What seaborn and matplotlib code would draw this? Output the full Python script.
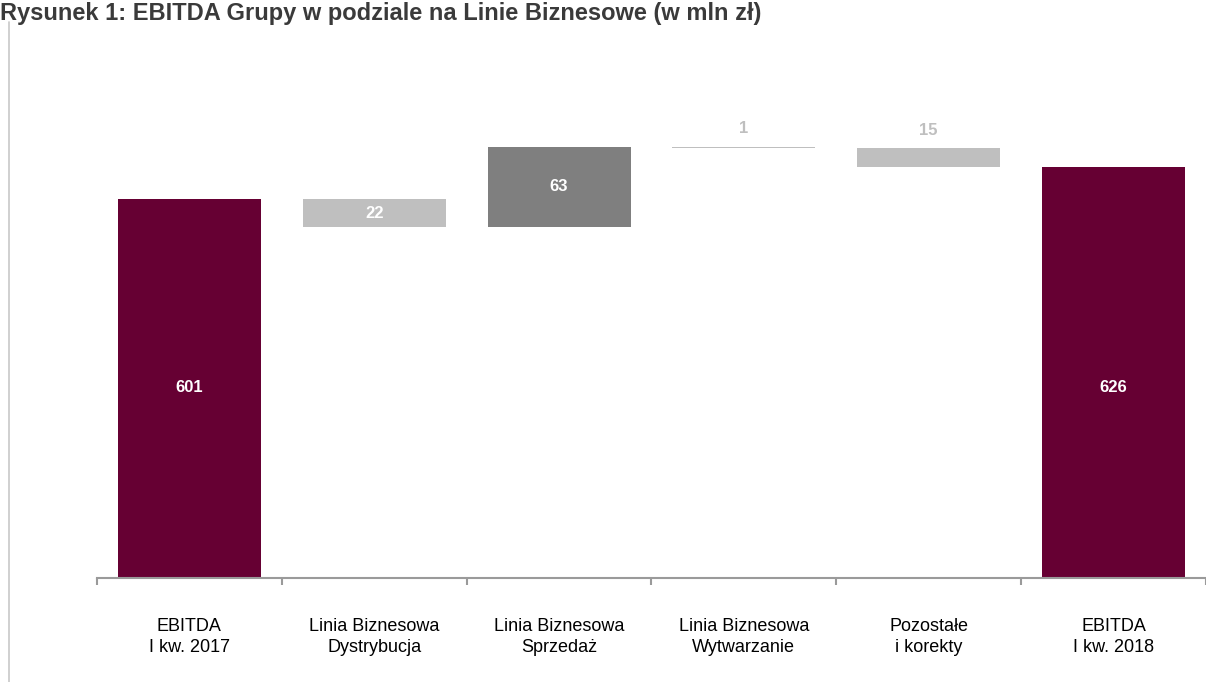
import matplotlib
matplotlib.use("Agg")
import matplotlib.pyplot as plt
import seaborn as sns
import numpy as np
from matplotlib.lines import Line2D

# ---- data ----
categories = ["EBITDA\nI kw. 2017", "Linia Biznesowa\nDystrybucja", "Linia Biznesowa\nSprzedaż",
              "Linia Biznesowa\nWytwarzanie", "Pozostałe\ni korekty", "EBITDA\nI kw. 2018"]
start_value = 601
deltas = [-22, 63, -1, -15]
end_value = 626
title = "Rysunek 1: EBITDA Grupy w podziale na Linie Biznesowe (w mln zł)"

# ---- derived waterfall geometry ----
bases, heights = [0], [start_value]
run = start_value
for d in deltas:
    new = run + d
    bases.append(min(run, new))
    heights.append(abs(d))
    run = new
bases.append(0)
heights.append(end_value)
labels = [str(start_value)] + [str(abs(d)) for d in deltas] + [str(end_value)]

MAROON = "#660033"
LIGHT = "#BFBFBF"
DARK = "#7F7F7F"
colors = [MAROON, LIGHT, DARK, LIGHT, LIGHT, MAROON]

sns.set_theme(style="white")
plt.rcParams["font.family"] = ["Liberation Sans", "DejaVu Sans"]

fig = plt.figure(figsize=(12.06, 6.82), dpi=100)
ax = fig.add_axes([97 / 1206, 1 - 578 / 682, 1 - 97 / 1206, (578 - 40) / 682])

ymin = 305
ymax = ymin + 538 / 1.28

sns.barplot(x=categories, y=heights, bottom=bases, color=LIGHT, width=0.773,
            saturation=1, ax=ax, linewidth=0)
for p, c in zip(ax.patches, colors):
    p.set_facecolor(c)
    p.set_edgecolor("none")

ax.set_xlim(-0.5, len(categories) - 0.5)
ax.set_ylim(ymin, ymax)

# value labels
total_label_y = (ymin + start_value) / 2 + 1
for i, (b, h, lab) in enumerate(zip(bases, heights, labels)):
    if i == 0 or i == len(categories) - 1:
        ax.text(i, total_label_y, lab, ha="center", va="center", color="white",
                fontsize=12, fontweight="bold")
    elif h >= 20:
        ax.text(i, b + h / 2, lab, ha="center", va="center", color="white",
                fontsize=12, fontweight="bold")
    else:
        ax.text(i, b + h + 8, lab, ha="center", va="bottom", color=LIGHT,
                fontsize=12, fontweight="bold")

# axes styling
for s in ["top", "right", "left"]:
    ax.spines[s].set_visible(False)
ax.spines["bottom"].set_color("#9A9A9A")
ax.spines["bottom"].set_linewidth(1.5)
ax.set_yticks([])
ax.set_xticks(range(len(categories)))
ax.set_xticklabels(categories, fontsize=13, color="black", linespacing=1.25)
ax.set_xticks(np.arange(-0.5, len(categories), 1.0), minor=True)
ax.tick_params(axis="x", which="major", length=0, pad=29)
ax.tick_params(axis="x", which="minor", length=5, width=1.5, color="#9A9A9A", direction="out",
               bottom=True)
ax.set_xlabel("")
ax.set_ylabel("")

# frame line at left and title
fig.add_artist(Line2D([8.5 / 1206, 8.5 / 1206], [0, 1 - 22 / 682], transform=fig.transFigure,
                      color="#C8C8C8", linewidth=1.2))
fig.text(0.0, 1 - 2 / 682, title, ha="left", va="top", fontsize=17,
         fontweight="bold", color="#3A3A3A")

fig.savefig("out.png", dpi=100)
